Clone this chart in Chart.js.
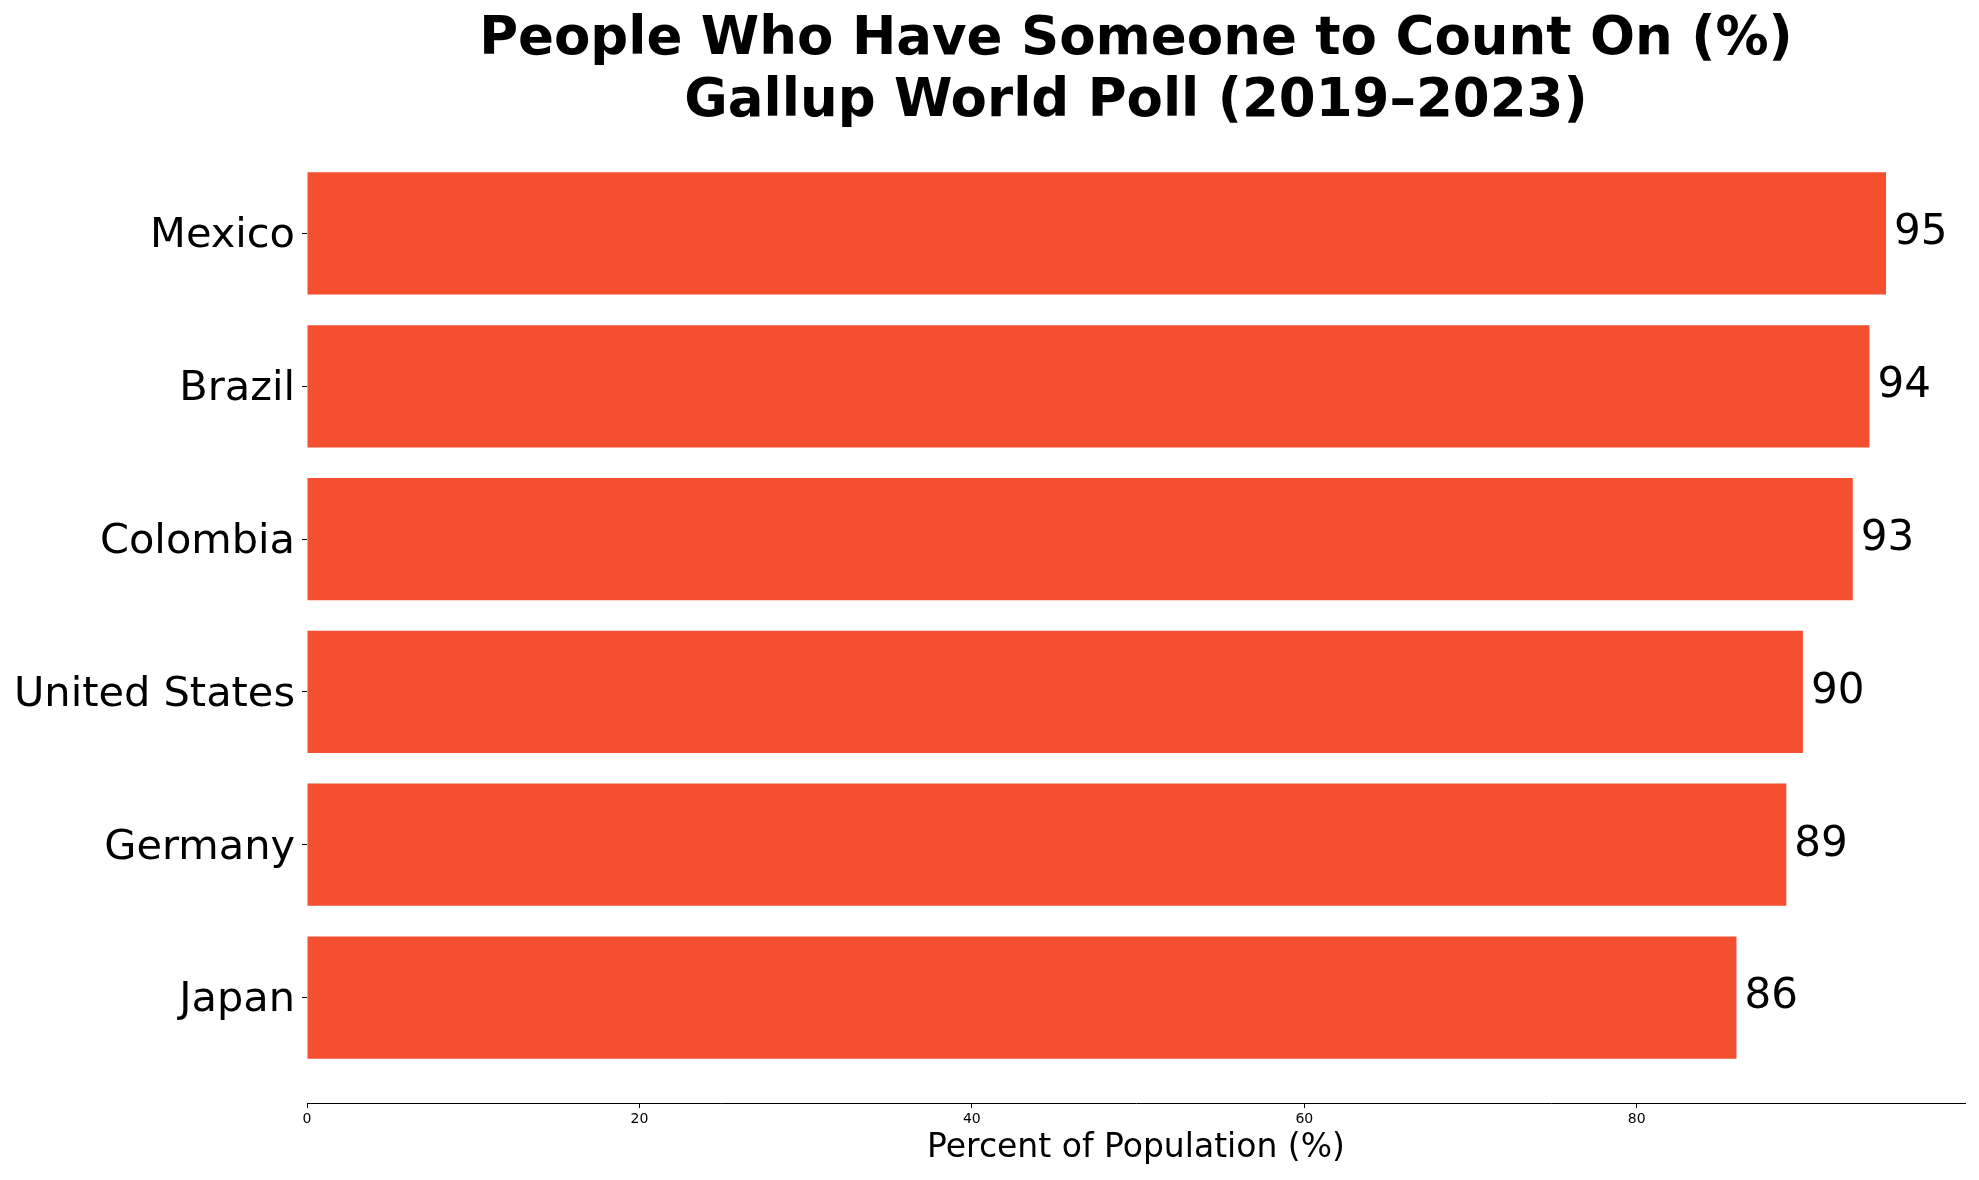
<!DOCTYPE html>
<html>
<head>
<meta charset="utf-8">
<title>People Who Have Someone to Count On</title>
<script src="https://cdn.jsdelivr.net/npm/chart.js@4/dist/chart.umd.min.js"></script>
<style>
  html, body { margin: 0; padding: 0; background: #fff; }
  #wrap { width: 1979px; height: 1180px; position: relative; }
</style>
</head>
<body>
<div id="wrap"><canvas id="chart"></canvas></div>
<script>
// Datos
const countries = ['Mexico', 'Brazil', 'Colombia', 'United States', 'Germany', 'Japan'];
const percents = [95, 94, 93, 90, 89, 86];
const xTicks = [0, 20, 40, 60, 80];

const FONT = "'DejaVu Sans', sans-serif";
const BAR_COLOR = '#f44f2f';

// Etiquetas de valor al final de cada barra
const valueLabels = {
    id: 'valueLabels',
    afterDatasetsDraw(chart) {
        const ctx = chart.ctx;
        const meta = chart.getDatasetMeta(0);
        ctx.save();
        ctx.font = `42px ${FONT}`;
        ctx.fillStyle = '#000';
        ctx.textAlign = 'left';
        ctx.textBaseline = 'middle';
        meta.data.forEach((bar, i) => {
            ctx.fillText(String(percents[i]), bar.x + 8, bar.y);
        });
        ctx.restore();
    }
};

const ctx = document.getElementById('chart').getContext('2d');
new Chart(ctx, {
    type: 'bar',
    data: {
        datasets: [{
            data: percents.map((v, i) => ({ x: v, y: i })),
            backgroundColor: BAR_COLOR,
            borderWidth: 0,
            categoryPercentage: 1.0,
            barPercentage: 0.8
        }]
    },
    options: {
        indexAxis: 'y',
        responsive: true,
        maintainAspectRatio: false,
        animation: false,
        layout: { padding: { left: 0, right: 14, top: 0, bottom: 0 } },
        plugins: {
            legend: { display: false },
            tooltip: { enabled: false },
            title: {
                display: true,
                fullSize: false,
                text: ['People Who Have Someone to Count On (%)', 'Gallup World Poll (2019–2023)'],
                color: '#000',
                font: { family: FONT, size: 53, weight: 'bold', lineHeight: 1.17 },
                padding: { top: 9, bottom: -5 }
            }
        },
        scales: {
            x: {
                type: 'linear',
                min: 0,
                max: 99.75,
                afterBuildTicks: (scale) => { scale.ticks = xTicks.map(v => ({ value: v })); },
                afterFit: (scale) => { scale.height = 77; },
                border: { display: true, color: '#000', width: 1 },
                grid: { drawOnChartArea: false, drawTicks: true, tickLength: 5, color: '#000', lineWidth: 1 },
                ticks: { color: '#000', font: { family: FONT, size: 14 }, padding: 3, maxRotation: 0 },
                title: {
                    display: true,
                    text: 'Percent of Population (%)',
                    color: '#000',
                    font: { family: FONT, size: 33, lineHeight: 1.2 },
                    padding: { top: 0, bottom: 12 }
                }
            },
            y: {
                type: 'linear',
                reverse: true,
                offset: false,
                min: -0.69,
                max: 5.69,
                afterBuildTicks: (scale) => { scale.ticks = countries.map((c, i) => ({ value: i })); },
                afterFit: (scale) => { scale.width = 307; },
                border: { display: false },
                grid: { offset: false, drawOnChartArea: false, drawTicks: true, tickLength: 5, color: '#000', lineWidth: 1 },
                ticks: {
                    color: '#000',
                    font: { family: FONT, size: 41.5 },
                    padding: 7,
                    labelOffset: 3,
                    callback: (v) => countries[v]
                }
            }
        }
    },
    plugins: [valueLabels]
});
</script>
</body>
</html>
